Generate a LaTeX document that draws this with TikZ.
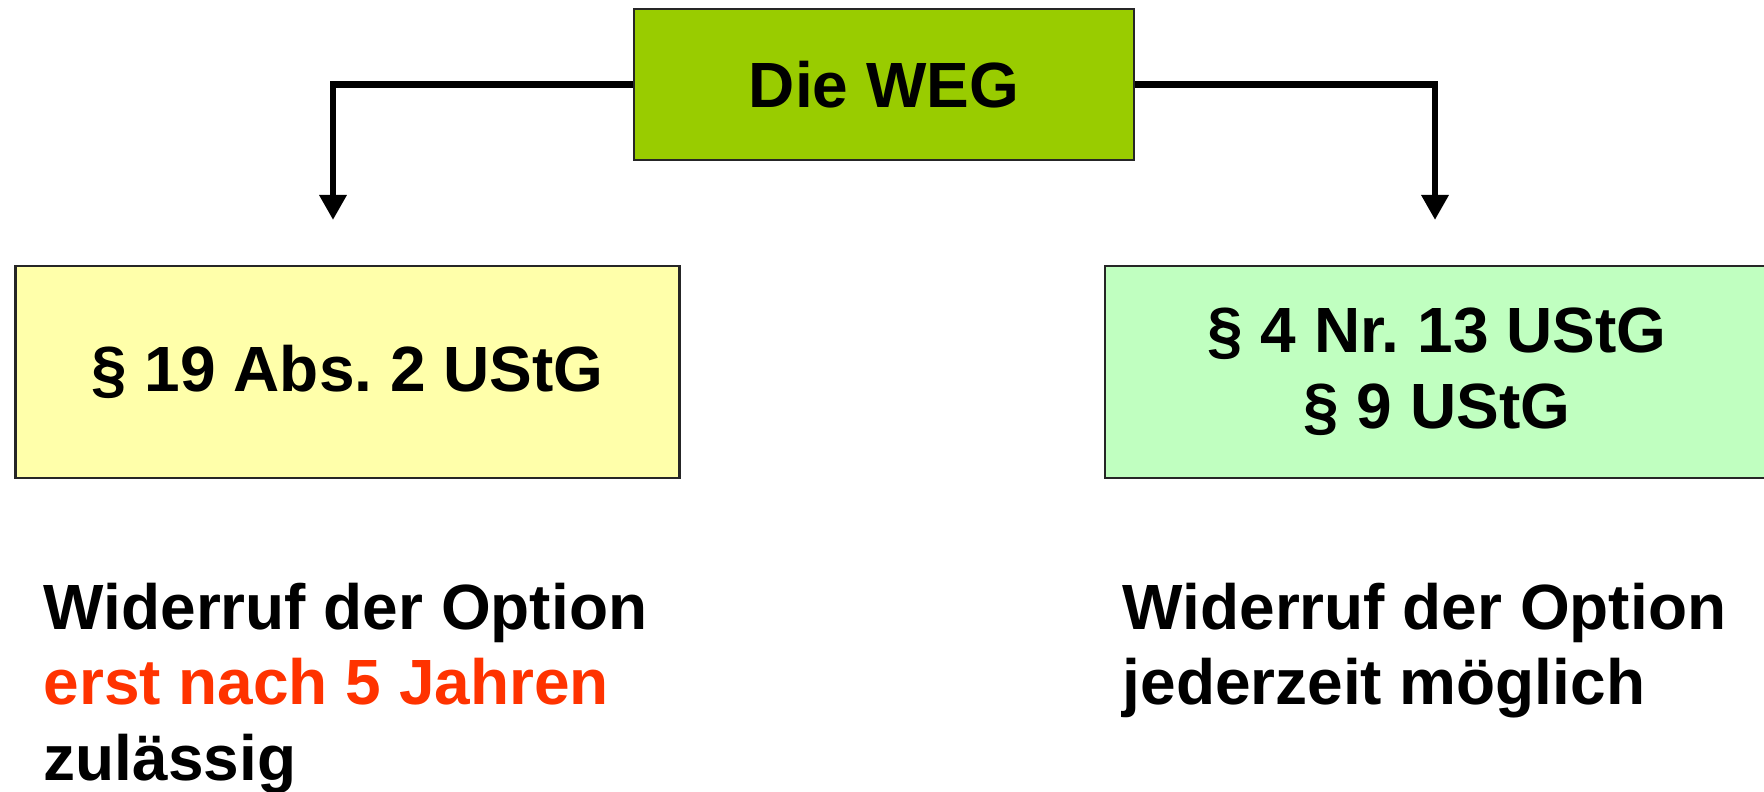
\documentclass[tikz,border=0pt]{standalone}
\usepackage{fontspec}
\setmainfont{Liberation Sans}
\usepackage{xcolor}
\usetikzlibrary{arrows.meta,positioning}
\definecolor{wegg}{RGB}{153,204,0}
\definecolor{absy}{RGB}{255,255,170}
\definecolor{nrg}{RGB}{192,255,192}
\definecolor{optred}{RGB}{255,51,0}
\tikzset{
  rulebox/.style={draw=black!85, line width=0.6pt, minimum width=6.64cm, minimum height=2.12cm, align=center},
  note/.style={inner sep=0pt, align=left, anchor=north west},
  branch/.style={line width=0.065cm, -{Triangle[width=0.26cm,length=0.25cm]}}
}
\frenchspacing

\begin{document}
\begin{tikzpicture}[every node/.style={font=\fontsize{18.2}{21.5}\selectfont\bfseries}]
\useasboundingbox (0,0) rectangle (17.64,7.91);
% ---- top box
\node[draw=black!85, line width=0.6pt, fill=wegg, minimum width=5cm, minimum height=1.51cm] (weg) at (8.84,7.065) {Die WEG};
% ---- two rule boxes
\node[rulebox, fill=absy] (abs) at (3.475,4.19) {\raisebox{-0.5mm}{\S\ 19 Abs. 2 UStG}};
\node[rulebox, fill=nrg] (nr) at (14.37,4.19) {\S\ 4 Nr. 13 UStG\\ \S\ 9 UStG};
% ---- branches
\coordinate (abstip) at (3.33,5.71);
\coordinate (nrtip) at (14.35,5.71);
\draw[branch] (weg.west) -| (abstip);
\draw[branch] (weg.east) -| (nrtip);
% ---- notes below
\node[note] (absnote) at (0.43,2.09) {Widerruf der Option\\ \textcolor{optred}{erst nach 5 Jahren}\\ zulässig};
\node[note] (nrnote) at (11.22,2.09) {Widerruf der Option\\ jederzeit möglich};
\end{tikzpicture}
\end{document}
